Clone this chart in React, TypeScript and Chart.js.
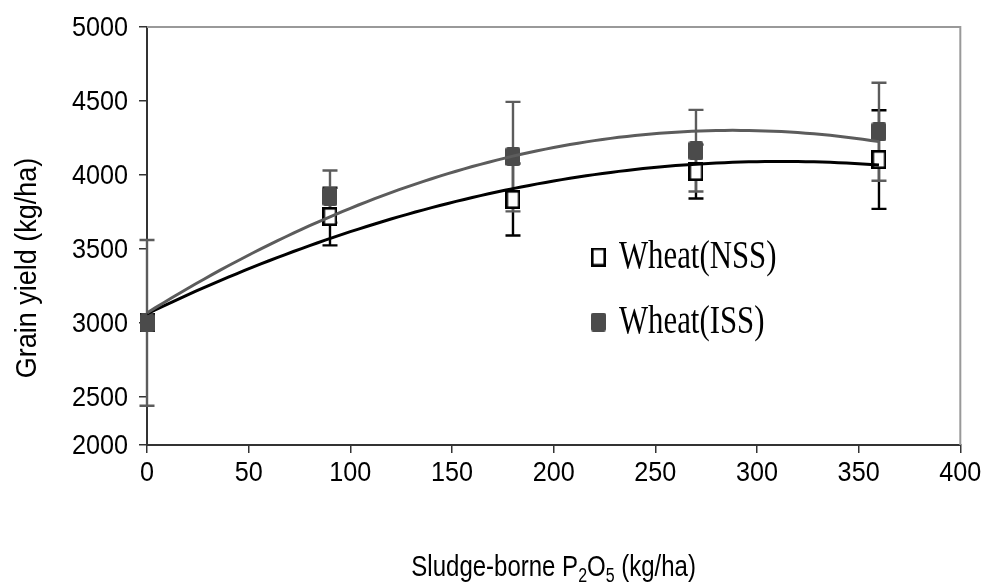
import React, { useEffect, useRef } from 'react';
import { Chart, registerables } from 'chart.js';

Chart.register(...registerables);

// ---- Data ----
const doses = [0, 90, 180, 270, 360];
const nssYield = [3000, 3719, 3834, 4023, 4104];
const nssErr = [0, 195, 243, 182, 333];
const issYield = [3000, 3854, 4124, 4164, 4292];
const issErr = [560, 176, 370, 276, 331];
const seriesNames = ['Wheat(NSS)', 'Wheat(ISS)'];
// the reference's value axis is cut short at the bottom: its lowest tick, labelled 2000,
// sits where roughly 2175 would fall on the otherwise uniform 500-step scale
const yAxisMin = 2175;
const yAxisMax = 5000;
const yTickValues = [2500, 3000, 3500, 4000, 4500, 5000];
const yBottomLabel = '2000';
const xTickStep = 50;
const yAxisTitle = 'Grain yield (kg/ha)';
const xAxisTitleParts = [
  { t: 'Sludge-borne P', sub: false },
  { t: '2', sub: true },
  { t: 'O', sub: false },
  { t: '5', sub: true },
  { t: ' (kg/ha)', sub: false },
];

const ISS_FILL = '#4b4b4b';
const ISS_LINE = '#5c5c5c';
const NSS_LINE = '#000000';
const SANS = '"Liberation Sans", Arial, sans-serif';

// least-squares quadratic trendline (as the original's polynomial trendline)
function fitQuadratic(xs: number[], ys: number[]) {
  let s0 = 0, s1 = 0, s2 = 0, s3 = 0, s4 = 0, t0 = 0, t1 = 0, t2 = 0;
  for (let i = 0; i < xs.length; i++) {
    const x = xs[i], y = ys[i];
    s0 += 1; s1 += x; s2 += x * x; s3 += x * x * x; s4 += x * x * x * x;
    t0 += y; t1 += x * y; t2 += x * x * y;
  }
  const M = [[s0, s1, s2, t0], [s1, s2, s3, t1], [s2, s3, s4, t2]];
  for (let c = 0; c < 3; c++) {
    for (let r = c + 1; r < 3; r++) {
      const f = M[r][c] / M[c][c];
      for (let k = c; k < 4; k++) M[r][k] -= f * M[c][k];
    }
  }
  const coef = [0, 0, 0];
  for (let r = 2; r >= 0; r--) {
    let v = M[r][3];
    for (let k = r + 1; k < 3; k++) v -= M[r][k] * coef[k];
    coef[r] = v / M[r][r];
  }
  return (x: number) => coef[0] + coef[1] * x + coef[2] * x * x;
}

function trendPoints(xs: number[], ys: number[]) {
  const f = fitQuadratic(xs, ys);
  const pts: { x: number; y: number }[] = [];
  const x0 = xs[0], x1 = xs[xs.length - 1];
  for (let x = x0; x <= x1 + 1e-9; x += 4) pts.push({ x, y: f(x) });
  return pts;
}

function makeMarker(kind: 'open' | 'filled') {
  const w = 15, h = 19;
  const c = document.createElement('canvas');
  c.width = w; c.height = h;
  const g = c.getContext('2d')!;
  if (kind === 'filled') {
    g.fillStyle = ISS_FILL;
    g.beginPath();
    (g as any).roundRect ? (g as any).roundRect(0, 0, w, h, 2.5) : g.rect(0, 0, w, h);
    g.fill();
  } else {
    g.fillStyle = '#ffffff';
    g.fillRect(0, 0, w, h);
    g.strokeStyle = '#000';
    g.lineWidth = 2.6;
    g.strokeRect(1.3, 1.3, w - 2.6, h - 2.6);
  }
  return c;
}

export default function App() {
  const ref = useRef<HTMLCanvasElement | null>(null);

  useEffect(() => {
    const canvas = ref.current;
    if (!canvas) return;
    const openMk = makeMarker('open');
    const fillMk = makeMarker('filled');

    const decor = {
      id: 'decor',
      beforeDatasetsDraw(chart: any) {
        const ctx = chart.ctx;
        const xs = chart.scales.x, ys = chart.scales.y;
        const drawBars = (vals: number[], errs: number[], color: string) => {
          ctx.save();
          ctx.strokeStyle = color;
          ctx.lineWidth = 2.4;
          for (let i = 0; i < doses.length; i++) {
            if (!errs[i]) continue;
            const px = xs.getPixelForValue(doses[i]);
            const top = ys.getPixelForValue(vals[i] + errs[i]);
            const bot = ys.getPixelForValue(vals[i] - errs[i]);
            ctx.beginPath();
            ctx.moveTo(px, top); ctx.lineTo(px, bot);
            ctx.moveTo(px - 7.5, top); ctx.lineTo(px + 7.5, top);
            ctx.moveTo(px - 7.5, bot); ctx.lineTo(px + 7.5, bot);
            ctx.stroke();
          }
          ctx.restore();
        };
        drawBars(nssYield, nssErr, NSS_LINE);
        drawBars(issYield, issErr, ISS_LINE);
      },
      afterDraw(chart: any) {
        const ctx = chart.ctx;
        const a = chart.chartArea;
        const xs = chart.scales.x, ys = chart.scales.y;
        ctx.save();
        // top / right frame
        ctx.strokeStyle = '#999999';
        ctx.lineWidth = 2;
        ctx.beginPath();
        ctx.moveTo(a.left, a.top);
        ctx.lineTo(a.right, a.top);
        ctx.lineTo(a.right, a.bottom);
        ctx.stroke();

        // tick labels (slightly condensed, like the reference)
        ctx.fillStyle = '#000';
        ctx.font = '28px ' + SANS;
        ctx.textBaseline = 'middle';
        for (const t of ys.ticks) {
          const py = ys.getPixelForValue(t.value);
          ctx.save();
          ctx.translate(a.left - 19, py + 1);
          ctx.scale(0.9, 1);
          ctx.textAlign = 'right';
          ctx.fillText(String(t.label), 0, 0);
          ctx.restore();
        }
        for (const t of xs.ticks) {
          const px = xs.getPixelForValue(t.value);
          ctx.save();
          ctx.translate(px, a.bottom + 28);
          ctx.scale(0.9, 1);
          ctx.textAlign = 'center';
          ctx.fillText(String(t.label), 0, 0);
          ctx.restore();
        }

        // legend
        const legend = [
          { mk: openMk, name: seriesNames[0], cy: 257 },
          { mk: fillMk, name: seriesNames[1], cy: 322 },
        ];
        for (const it of legend) {
          ctx.drawImage(it.mk, 591, it.cy - 9.5);
          ctx.save();
          ctx.translate(619, it.cy + 11);
          ctx.scale(0.79, 1);
          ctx.font = '39px "Liberation Serif", "Times New Roman", serif';
          ctx.fillStyle = '#000';
          ctx.textAlign = 'left';
          ctx.textBaseline = 'alphabetic';
          ctx.fillText(it.name, 0, 0);
          ctx.restore();
        }

        // y title
        ctx.save();
        ctx.translate(28, 268);
        ctx.rotate(-Math.PI / 2);
        ctx.scale(0.93, 1);
        ctx.font = '29px ' + SANS;
        ctx.fillStyle = '#000';
        ctx.textAlign = 'center';
        ctx.textBaseline = 'middle';
        ctx.fillText(yAxisTitle, 0, 0);
        ctx.restore();

        // x title with subscripts
        ctx.save();
        const big = '30px ' + SANS;
        const small = '20px ' + SANS;
        let total = 0;
        for (const p of xAxisTitleParts) {
          ctx.font = p.sub ? small : big;
          total += ctx.measureText(p.t).width;
        }
        const cx = (a.left + a.right) / 2;
        ctx.translate(cx, 576);
        ctx.scale(0.8, 1);
        let x = -total / 2;
        ctx.fillStyle = '#000';
        ctx.textAlign = 'left';
        ctx.textBaseline = 'alphabetic';
        for (const p of xAxisTitleParts) {
          ctx.font = p.sub ? small : big;
          ctx.fillText(p.t, x, p.sub ? 6 : 0);
          x += ctx.measureText(p.t).width;
        }
        ctx.restore();
        ctx.restore();
      },
    };

    const chart = new Chart(canvas, {
      type: 'scatter',
      data: {
        datasets: [
          {
            label: seriesNames[1] + ' trend',
            type: 'line',
            data: trendPoints(doses, issYield),
            borderColor: ISS_LINE,
            borderWidth: 3,
            pointRadius: 0,
            fill: false,
            tension: 0,
            order: 0,
          } as any,
          {
            label: seriesNames[0] + ' trend',
            type: 'line',
            data: trendPoints(doses, nssYield),
            borderColor: NSS_LINE,
            borderWidth: 3,
            pointRadius: 0,
            fill: false,
            tension: 0,
            order: 1,
          } as any,
          {
            label: seriesNames[1],
            data: doses.map((d, i) => ({ x: d, y: issYield[i] })),
            pointStyle: fillMk,
            pointRadius: 8,
            clip: false,
            order: 2,
          } as any,
          {
            label: seriesNames[0],
            data: doses.map((d, i) => ({ x: d, y: nssYield[i] })),
            pointStyle: openMk,
            pointRadius: 8,
            clip: false,
            order: 3,
          } as any,
        ],
      },
      options: {
        animation: false,
        responsive: false,
        maintainAspectRatio: false,
        layout: { padding: { top: 27, right: 26, bottom: 0, left: 0 } },
        plugins: { legend: { display: false }, tooltip: { enabled: false } },
        events: [],
        scales: {
          x: {
            type: 'linear',
            min: 0,
            max: 400,
            afterFit: (s: any) => { s.height = 137; },
            ticks: {
              stepSize: xTickStep,
              color: 'rgba(0,0,0,0)',
              padding: 6,
              font: { family: SANS, size: 26 },
              callback: (v: any) => String(v),
            },
            grid: { display: true, drawOnChartArea: false, drawTicks: true, tickLength: 8, color: '#333', lineWidth: 1.5 },
            border: { color: '#333', width: 2 },
          },
          y: {
            min: yAxisMin,
            max: yAxisMax,
            afterFit: (s: any) => { s.width = 147; },
            afterBuildTicks: (s: any) => {
              s.ticks = [yAxisMin, ...yTickValues].map((v) => ({ value: v }));
            },
            ticks: {
              color: 'rgba(0,0,0,0)',
              padding: 11,
              font: { family: SANS, size: 26 },
              callback: (v: any) => (v === yAxisMin ? yBottomLabel : String(v)),
            },
            grid: { display: true, drawOnChartArea: false, drawTicks: true, tickLength: 8, color: '#333', lineWidth: 1.5 },
            border: { color: '#333', width: 2 },
          },
        },
      },
      plugins: [decor],
    } as any);
    return () => chart.destroy();
  }, []);

  return (
    <div style={{ position: 'absolute', left: 0, top: 0, width: 988, height: 582, background: '#fff' }}>
      <canvas ref={ref} width={988} height={582} style={{ width: 988, height: 582, display: 'block' }} />
    </div>
  );
}
